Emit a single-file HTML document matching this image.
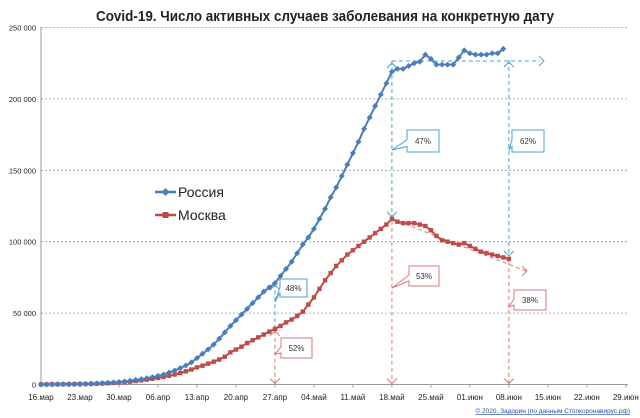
<!DOCTYPE html>
<html><head><meta charset="utf-8"><style>
body{margin:0;background:#fff;}
svg{display:block;font-family:"Liberation Sans","DejaVu Sans",sans-serif;}
</style></head><body>
<svg id="chart" width="640" height="418" viewBox="0 0 640 418">
<text x="325" y="21" text-anchor="middle" font-size="14.5" font-weight="bold" fill="#222" textLength="458" lengthAdjust="spacingAndGlyphs">Covid-19. Число активных случаев заболевания на конкретную дату</text>
<g id="grid"></g>
<g id="axes"></g>
<g id="annot"></g>
<g id="series"></g>
<g>
 <g>
  <line x1="155" y1="192" x2="176" y2="192" stroke="#4a7ebb" stroke-width="2.5"/>
  <path d="M165.5 188 L169.5 192 L165.5 196 L161.5 192Z" fill="#4a7ebb"/>
  <text x="178" y="197" font-size="14" fill="#222">Россия</text>
 </g>
 <g>
  <line x1="155" y1="215" x2="176" y2="215" stroke="#be4b48" stroke-width="2.5"/>
  <rect x="162.5" y="212" width="6" height="6" fill="#be4b48"/>
  <text x="178" y="220" font-size="14" fill="#222">Москва</text>
 </g>
</g>
<text x="630" y="413" text-anchor="end" font-size="6.5" fill="#2a4fa0" text-decoration="underline">© 2020, Задорин (по данным Стопкоронавирус.рф)</text>
</svg>
<script>
const xTickLabels=["16.мар","23.мар","30.мар","06.апр","13.апр","20.апр","27.апр","04.май","11.май","18.май","25.май","01.июн","08.июн","15.июн","22.июн","29.июн"];
const yTicks=[0,50000,100000,150000,200000,250000];
const yTickLabels=["0","50 000","100 000","150 000","200 000","250 000"];
// thousands, daily from 16 Mar
const russia=[0.09,0.11,0.14,0.19,0.24,0.29,0.35,
0.42,0.47,0.63,0.77,1.0,1.2,1.45,
1.75,2.2,2.6,3.2,3.8,4.4,5.2,
6.0,7.0,8.4,9.8,11.5,13.3,15.5,
18.5,21.5,24.6,28.0,32.0,36.5,41.0,
45,49,53,57,61,65,68,
71,76,81,86,92,98,103,
109,116,123,131,138,146,154,
162,170,179,187,195,203,211,
219,221,221,223,225,226,231,
228,224,224,224,224,229,234,
232,231,231,231,232,232,235];
const moscow=[0.05,0.07,0.09,0.13,0.17,0.2,0.25,
0.3,0.35,0.45,0.55,0.7,0.9,1.1,
1.3,1.6,2.0,2.4,2.9,3.4,4.0,
4.6,5.3,6.1,7.0,8.0,9.2,10.5,
12.0,13.2,14.6,16.0,17.5,19.5,22.5,
24.5,26.5,29.0,31.0,33.0,35.0,37.0,
39.0,41.0,43.5,45.5,48.0,51.0,56.0,
61,67,73,78,83,87,91,
94,97,100,103,106,109,112,
116,114,113,113,113,112,111,
108,104,101,100,99,98,99,
97,95,93,92,91,90,89,88];
const NS="http://www.w3.org/2000/svg";
const X0=41,DX=5.57,Y0=384.5,YS=357/250000;
const x=d=>X0+d*DX, y=v=>Y0-v*YS;
function mk(t,p,a){const e=document.createElementNS(NS,t);for(const k in a)e.setAttribute(k,a[k]);p.appendChild(e);return e;}
const grid=document.getElementById('grid'),axes=document.getElementById('axes'),series=document.getElementById('series'),ann=document.getElementById('annot');
yTicks.forEach((v,i)=>{
 if(v>0){const l=mk('line',grid,{x1:X0,x2:628,y1:y(v),y2:y(v),stroke:'#999','stroke-dasharray':'2 2','stroke-width':0.8});
 
 }
 const t=mk('text',axes,{x:36,y:y(v)+3,'text-anchor':'end','font-size':7.5,fill:'#222'});t.textContent=yTickLabels[i];
 
 
});
mk('line',axes,{x1:X0,x2:X0,y1:27,y2:Y0,stroke:'#999'});
mk('line',axes,{x1:X0,x2:628,y1:Y0,y2:Y0,stroke:'#999'});
xTickLabels.forEach((s,i)=>{
 mk('line',axes,{x1:x(i*7),x2:x(i*7),y1:Y0,y2:Y0+3,stroke:'#999'});
 const t=mk('text',axes,{x:x(i*7),y:400,'text-anchor':'middle','font-size':8,fill:'#222'});t.textContent=s;
 
 
});
function drawSeries(arr,col,shape,name){
 const g=mk('g',series,{});
 
 
 mk('polyline',g,{points:arr.map((v,i)=>x(i)+','+y(v*1000)).join(' '),fill:'none',stroke:col,'stroke-width':2});
 arr.forEach((v,i)=>{const cx=x(i),cy=y(v*1000);let m;
  if(shape==='d')m=mk('path',g,{d:`M${cx} ${cy-3}L${cx+3} ${cy}L${cx} ${cy+3}L${cx-3} ${cy}Z`,fill:col});
  else m=mk('rect',g,{x:cx-2.2,y:cy-2.2,width:4.4,height:4.4,fill:col});
  
  });
}
const B='#4aa3d0',R='#d77a78';
function dl(x1,y1,x2,y2,c){mk('line',ann,{x1,y1,x2,y2,stroke:c,'stroke-dasharray':'4 3','stroke-width':1});}
function arrow(xx,yy,dir,c){const s=5;let d;
 if(dir==='d')d=`M${xx-s} ${yy-s}L${xx} ${yy}L${xx+s} ${yy-s}`;
 else if(dir==='u')d=`M${xx-s} ${yy+s}L${xx} ${yy}L${xx+s} ${yy+s}`;
 else d=`M${xx-s} ${yy-s}L${xx} ${yy}L${xx-s} ${yy+s}`;
 mk('path',ann,{d,fill:'none',stroke:c,'stroke-width':1});}
function callout(bx,by,w,h,tx,ty,txt,c,name){
 const g=mk('g',ann,{});
 
 
 mk('path',g,{d:`M${bx} ${by}H${bx+w}V${by+h}H${bx}V${by+h*0.75}L${tx} ${ty}L${bx} ${by+h*0.45}Z`,fill:'#fff',stroke:c,'stroke-width':1});
 const t=mk('text',g,{x:bx+w/2,y:by+h/2+3,'text-anchor':'middle','font-size':8,fill:'#333'});t.textContent=txt;}
const d42=x(42),d63=x(63),d84=x(84);
dl(d63,61,540,61,B);arrow(544,61,'r',B);
dl(d63,61,d63,y(moscow[63]*1000)-2,B);arrow(d63,y(moscow[63]*1000)-2,'d',B);arrow(d63,63,'u',B);
dl(d84,60,d84,y(moscow[84]*1000)-3,B);arrow(d84,y(moscow[84]*1000)-3,'d',B);arrow(d84,62,'u',B);
dl(d42,y(russia[42]*1000),d42,y(moscow[42]*1000),B);arrow(d42,y(russia[42]*1000)+2,'u',B);
dl(d42,y(moscow[42]*1000)+2,d42,Y0,R);arrow(d42,y(moscow[42]*1000)+2,'u',R);arrow(d42,Y0-1,'d',R);
dl(d63,y(moscow[63]*1000)+2,d63,Y0,R);arrow(d63,Y0-1,'d',R);
dl(d84,y(moscow[84]*1000)+2,d84,Y0,R);arrow(d84,Y0-1,'d',R);
dl(d63,y(moscow[63]*1000),526,271,R);arrow(527,271,'r',R);
callout(407,130,32,22,d63,150,'47%',B,'callout-47');
callout(512,130,32,22,d84,150,'62%',B,'callout-62');
callout(280,279,27,18,d42,302,'48%',B,'callout-48');
callout(409,266,30,20,d63,288,'53%',R,'callout-53');
callout(514,290,32,20,d84,307,'38%',R,'callout-38');
callout(281,338,31,20,d42,354,'52%',R,'callout-52');
drawSeries(moscow,'#be4b48','s','moscow-series');
drawSeries(russia,'#4a7ebb','d','russia-series');
</script>
</body></html>
